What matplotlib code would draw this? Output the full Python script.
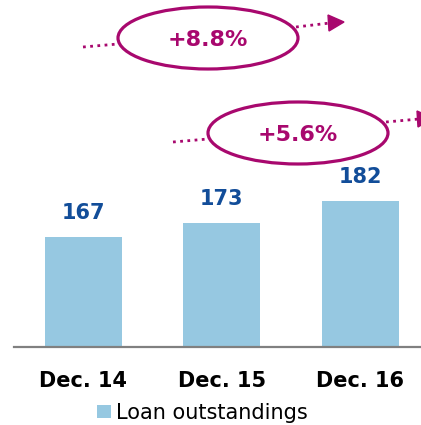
import numpy as np
import matplotlib
matplotlib.use("Agg")
import matplotlib.pyplot as plt
from matplotlib.patches import Ellipse, Polygon
from matplotlib.lines import Line2D

# datos
categorias = ["Dec. 14", "Dec. 15", "Dec. 16"]
prestamos = [167, 173, 182]
crecimientos = ["+8.8%", "+5.6%"]
serie = "Loan outstandings"

azul_barra = "#96c8e1"
azul_texto = "#124d99"
magenta = "#a8086e"

W, H = 421, 425
fig = plt.figure(figsize=(W / 100, H / 100), dpi=100)


def px(x, y):
    """pixel (desde arriba a la izquierda) -> fraccion de figura"""
    return x / W, 1 - y / H


# ejes: base en y=347 px, desde x=14 hasta el borde derecho
x0, y0 = px(14, 347)
ax = fig.add_axes([x0, y0, 1 - x0, 1 - y0])

x = np.arange(len(categorias))
ax.bar(x, prestamos, width=0.556, color=azul_barra, label=serie, zorder=2)
for xi, v in zip(x, prestamos):
    ax.annotate(str(v), (xi, v), xytext=(0, 10), textcoords="offset points",
                ha="center", va="bottom", fontsize=15, fontweight="bold",
                color=azul_texto)

ax.set_xlim(-0.502, 2.44)
ax.set_ylim(121.2, 265.8)
ax.set_xticks(x)
ax.set_xticklabels(categorias, fontsize=15, fontweight="bold")
ax.tick_params(axis="x", length=0, pad=17)
ax.set_yticks([])
for s in ["top", "right", "left"]:
    ax.spines[s].set_visible(False)
ax.spines["bottom"].set_color("#808080")
ax.spines["bottom"].set_linewidth(1.6)
ax.patch.set_alpha(0)

# leyenda
fig.legend(loc="center", bbox_to_anchor=px(202, 413), frameon=False,
           fontsize=15, handlelength=0.7, handleheight=0.6,
           handletextpad=0.2, borderpad=0)

# anotaciones de crecimiento (elipses con flechas punteadas)
anot = [
    # centro elipse, linea izq, linea der, punta flecha
    ((208, 38), [(83, 47), (118, 44)], [(296, 27), (330, 23)],
     [(328, 15), (344, 22), (329, 31)]),
    ((298, 133), [(173, 142), (208, 139)], [(386, 122), (419, 119)],
     [(417, 111), (433, 118), (418, 127)]),
]
for (c, izq, der, punta), txt in zip(anot, crecimientos):
    e = Ellipse(px(*c), 180 / W, 62 / H, transform=fig.transFigure,
                fill=False, edgecolor=magenta, linewidth=2.3)
    fig.add_artist(e)
    fig.text(*px(c[0], c[1] + 2), txt, ha="center", va="center",
             fontsize=16, fontweight="bold", color=magenta)
    for seg in (izq, der):
        xs, ys = zip(*[px(*p) for p in seg])
        fig.add_artist(Line2D(xs, ys, transform=fig.transFigure,
                              color=magenta, linewidth=2, linestyle=(0, (1, 1.6))))
    fig.add_artist(Polygon([px(*p) for p in punta], closed=True,
                           transform=fig.transFigure, color=magenta))

fig.savefig("out.png", dpi=100)
